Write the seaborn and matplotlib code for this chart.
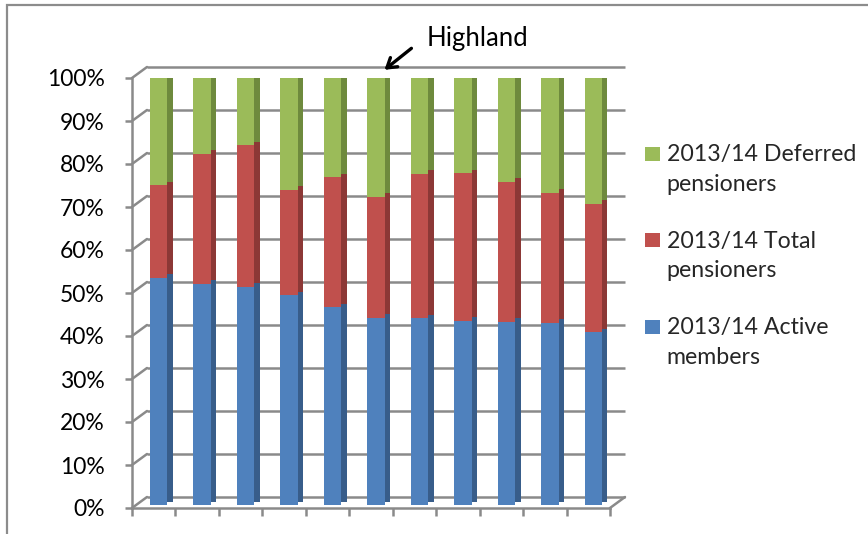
import matplotlib
matplotlib.use("Agg")
import matplotlib.pyplot as plt
import matplotlib.lines as mlines
from matplotlib.transforms import ScaledTranslation
from matplotlib.patches import Patch, Rectangle
import seaborn as sns

# ---- data (percent of membership) ----
categories = ["Fund 1", "Fund 2", "Fund 3", "Fund 4", "Fund 5", "Highland",
              "Fund 7", "Fund 8", "Fund 9", "Fund 10", "Fund 11"]
active = [52.8, 51.4, 50.8, 48.8, 46.0, 43.5, 43.4, 42.8, 42.6, 42.4, 40.2]
pensioners = [21.6, 30.3, 32.9, 24.5, 30.2, 28.2, 33.6, 34.4, 32.6, 30.2, 29.9]
deferred = [25.6, 18.3, 16.3, 26.7, 23.8, 28.3, 23.0, 22.8, 24.8, 27.4, 29.9]
series_labels = ["2013/14 Active\nmembers", "2013/14 Total\npensioners",
                 "2013/14 Deferred\npensioners"]
yticks = [0, 10, 20, 30, 40, 50, 60, 70, 80, 90, 100]
ytick_labels = [f"{v}%" for v in yticks]
highlight = "Highland"

face_colors = ["#4F81BD", "#C0504D", "#9BBB59"]
side_colors = ["#385D8A", "#8C3836", "#6E8A3D"]

sns.set_theme(style="white")
plt.rcParams["font.family"] = ["Lato", "DejaVu Sans"]

DPI = 100
fig = plt.figure(figsize=(8.68, 5.34), dpi=DPI)
AX_L, AX_R, AX_T, AX_B = 132, 610, 78, 508
ax = fig.add_axes([AX_L / 868, 1 - AX_B / 534, (AX_R - AX_L) / 868, (AX_B - AX_T) / 534])

def px(dx, dy):
    return ScaledTranslation(dx / DPI, dy / DPI, fig.dpi_scale_trans)

# cumulative tops
tot_red = [a + p for a, p in zip(active, pensioners)]
tot_green = [a + p + d for a, p, d in zip(active, pensioners, deferred)]
stack_tops = [active, tot_red, tot_green]

W = 0.40
bar_shift = px(5, 3)
side_shift = px(5 + 5.5, 3 + 3.5)

# side faces (drawn first, back to front: tallest first)
for tops, col in zip(stack_tops[::-1], side_colors[::-1]):
    n0 = len(ax.patches)
    sns.barplot(x=categories, y=tops, color=col, width=W, saturation=1,
                ax=ax, zorder=2)
    for p in ax.patches[n0:]:
        p.set_transform(ax.transData + side_shift)
        p.set_linewidth(0)

# front faces
for tops, col in zip(stack_tops[::-1], face_colors[::-1]):
    n0 = len(ax.patches)
    sns.barplot(x=categories, y=tops, color=col, width=W, saturation=1,
                ax=ax, zorder=3)
    for p in ax.patches[n0:]:
        p.set_transform(ax.transData + bar_shift)
        p.set_linewidth(0)

ax.set_xlim(-0.5, len(categories) - 0.5)
ax.set_ylim(0, 100)
ax.set_xlabel("")
ax.set_ylabel("")

grid_col = "#8A8A8A"
BDX, BDY = 15, 11
back = px(BDX, BDY)
# back wall grid lines
ax.hlines(yticks, 0, 1, transform=ax.get_yaxis_transform() + back,
          color=grid_col, lw=1.8, zorder=1, clip_on=False)
fig.canvas.draw()
# left wall connectors
for v in yticks:
    f = ax.get_yaxis_transform().transform((0, v))
    fig.add_artist(mlines.Line2D([f[0], f[0] + BDX], [f[1], f[1] + BDY],
                                 transform=None, color=grid_col, lw=1.8, zorder=1))
# floor right edge
fr = ax.transAxes.transform((1, 0))
fig.add_artist(mlines.Line2D([fr[0], fr[0] + BDX], [fr[1], fr[1] + BDY],
                             transform=None, color=grid_col, lw=1.8))

for s in ["top", "right"]:
    ax.spines[s].set_visible(False)
for s in ["left", "bottom"]:
    ax.spines[s].set_color(grid_col)
    ax.spines[s].set_linewidth(1.8)
ax.set_yticks(yticks)
ax.set_yticklabels(ytick_labels, fontsize=16.5, color="black")
ax.set_xticks([i + 0.5 for i in range(-1, len(categories))])
ax.set_xticklabels([])
ax.tick_params(axis="x", direction="out", length=6, width=1.8, color=grid_col, bottom=True)
ax.tick_params(axis="y", direction="out", length=5, width=1.8, color=grid_col, left=True, pad=14.5)
ax.patch.set_alpha(0)

# annotation for Highland
hi = categories.index(highlight)
ax.annotate("", xy=(hi + 0.31, 101.9), xytext=(hi + 0.93, 106.9),
            xycoords="data", textcoords="data", annotation_clip=False,
            arrowprops=dict(arrowstyle="->,head_length=0.55,head_width=0.35",
                            color="black", lw=2.4, shrinkA=0, shrinkB=0))
ax.text(hi + 1.28, 107.4, highlight, fontsize=18.5, ha="left", va="baseline",
        color="black", clip_on=False)

# legend
handles = [Patch(facecolor=c, edgecolor="none") for c in face_colors[::-1]]
leg = fig.legend(handles, series_labels[::-1], loc="upper left",
                 bbox_to_anchor=(636 / 868, 1 - 135 / 534), frameon=False,
                 fontsize=16.7, handlelength=0.65, handleheight=0.55,
                 handletextpad=0.28, labelspacing=1.55, alignment="left",
                 borderaxespad=0)
for t in leg.get_texts():
    t.set_linespacing(1.5)
for p in leg.get_patches():
    p.set_transform(p.get_data_transform() + px(0, 16))

# outer chart border
fig.add_artist(Rectangle((7 / 868, -0.1), 1.2, 1 - 5 / 534 + 0.1,
                         transform=fig.transFigure, fill=False,
                         edgecolor="#8C8C8C", lw=1.6))

fig.savefig("out.png", dpi=DPI)
